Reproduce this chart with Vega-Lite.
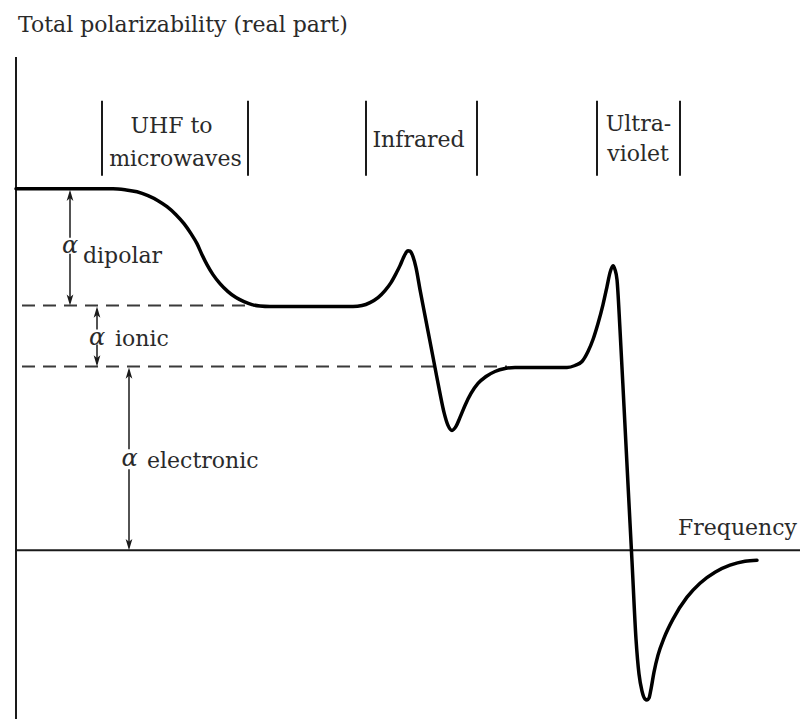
{
  "$schema": "https://vega.github.io/schema/vega-lite/v6.json",
  "width": 804,
  "height": 720,
  "autosize": {"type": "fit", "contains": "padding"},
  "padding": 0,
  "background": "white",
  "config": {"view": {"stroke": null}},
  "datasets": {
    "curve": [
      {"f": 16, "p": 362}, {"f": 113, "p": 362}, {"f": 125, "p": 361}, {"f": 137, "p": 359},
      {"f": 148, "p": 355}, {"f": 158, "p": 350}, {"f": 167, "p": 344}, {"f": 176, "p": 336},
      {"f": 184, "p": 327}, {"f": 191, "p": 317}, {"f": 197, "p": 307}, {"f": 202, "p": 296},
      {"f": 207, "p": 286}, {"f": 213, "p": 276}, {"f": 220, "p": 267}, {"f": 228, "p": 259},
      {"f": 236, "p": 253}, {"f": 244, "p": 249}, {"f": 252, "p": 246}, {"f": 260, "p": 244.5},
      {"f": 270, "p": 244}, {"f": 353, "p": 244}, {"f": 362, "p": 245}, {"f": 370, "p": 248},
      {"f": 378, "p": 253}, {"f": 385, "p": 260}, {"f": 391, "p": 268}, {"f": 396, "p": 277},
      {"f": 400, "p": 285}, {"f": 403, "p": 292}, {"f": 406, "p": 298}, {"f": 408, "p": 300},
      {"f": 410, "p": 299.5}, {"f": 413, "p": 294}, {"f": 416, "p": 283}, {"f": 420, "p": 261},
      {"f": 425, "p": 235}, {"f": 430, "p": 209}, {"f": 435, "p": 183}, {"f": 440, "p": 157},
      {"f": 444, "p": 138}, {"f": 448, "p": 125}, {"f": 452, "p": 120}, {"f": 456, "p": 124},
      {"f": 460, "p": 133}, {"f": 465, "p": 145}, {"f": 471, "p": 157}, {"f": 478, "p": 167},
      {"f": 486, "p": 174}, {"f": 495, "p": 179}, {"f": 505, "p": 182}, {"f": 515, "p": 183},
      {"f": 567, "p": 183}, {"f": 575, "p": 185}, {"f": 582, "p": 189}, {"f": 588, "p": 199},
      {"f": 593, "p": 211}, {"f": 598, "p": 227}, {"f": 603, "p": 246}, {"f": 607, "p": 264},
      {"f": 610, "p": 278}, {"f": 613, "p": 285}, {"f": 615, "p": 281}, {"f": 617, "p": 271},
      {"f": 620, "p": 221}, {"f": 624, "p": 144}, {"f": 628, "p": 66}, {"f": 632, "p": -11},
      {"f": 636, "p": -89}, {"f": 639, "p": -124}, {"f": 642, "p": -141}, {"f": 645, "p": -149},
      {"f": 647, "p": -150}, {"f": 649, "p": -148}, {"f": 651, "p": -139}, {"f": 654, "p": -122},
      {"f": 658, "p": -105}, {"f": 664, "p": -88}, {"f": 673, "p": -69}, {"f": 687, "p": -47},
      {"f": 700, "p": -33}, {"f": 715, "p": -22}, {"f": 730, "p": -15}, {"f": 745, "p": -11},
      {"f": 757, "p": -10}
    ],
    "axes": [
      {"f": 16, "f2": 16, "p": 494, "p2": -169},
      {"f": 16, "f2": 800, "p": 0, "p2": 0}
    ],
    "levels": [
      {"f": 22, "f2": 257, "p": 245, "p2": 245},
      {"f": 22, "f2": 507, "p": 184, "p2": 184}
    ],
    "bands": [
      {"f": 102, "f2": 102, "p": 450, "p2": 375},
      {"f": 248, "f2": 248, "p": 450, "p2": 375},
      {"f": 366, "f2": 366, "p": 450, "p2": 375},
      {"f": 477, "f2": 477, "p": 450, "p2": 375},
      {"f": 597, "f2": 597, "p": 450, "p2": 375},
      {"f": 680, "f2": 680, "p": 450, "p2": 375}
    ],
    "shafts": [
      {"f": 70, "f2": 70, "p": 358, "p2": 313},
      {"f": 70, "f2": 70, "p": 297, "p2": 248},
      {"f": 97, "f2": 97, "p": 241, "p2": 221},
      {"f": 97, "f2": 97, "p": 206, "p2": 187},
      {"f": 129, "f2": 129, "p": 180, "p2": 101},
      {"f": 129, "f2": 129, "p": 81, "p2": 3}
    ],
    "heads": [
      {"f": 70, "p": 361, "dir": "up"}, {"f": 70, "p": 245, "dir": "down"},
      {"f": 97, "p": 244, "dir": "up"}, {"f": 97, "p": 184, "dir": "down"},
      {"f": 129, "p": 183, "dir": "up"}, {"f": 129, "p": 0, "dir": "down"}
    ],
    "alphas": [
      {"f": 70, "p": 305, "t": "α"},
      {"f": 97, "p": 213, "t": "α"},
      {"f": 129.5, "p": 91, "t": "α"}
    ],
    "leftText": [
      {"f": 18, "p": 519, "t": "Total polarizability (real part)"},
      {"f": 83, "p": 288, "t": "dipolar"},
      {"f": 115, "p": 205, "t": "ionic"},
      {"f": 147, "p": 82, "t": "electronic"},
      {"f": 678, "p": 15, "t": "Frequency"}
    ],
    "centerText": [
      {"f": 171.5, "p": 418, "t": "UHF to"},
      {"f": 175.5, "p": 385, "t": "microwaves"},
      {"f": 418.5, "p": 404, "t": "Infrared"},
      {"f": 638.5, "p": 420, "t": "Ultra-"},
      {"f": 638, "p": 390, "t": "violet"}
    ]
  },
  "encoding": {
    "x": {"field": "f", "type": "quantitative", "axis": null, "scale": {"domain": [0, 804], "nice": false, "zero": false}},
    "y": {"field": "p", "type": "quantitative", "axis": null, "scale": {"domain": [-169, 551], "nice": false, "zero": false}}
  },
  "layer": [
    {
      "data": {"name": "axes"},
      "mark": {"type": "rule", "stroke": "#1a1a1a", "strokeWidth": 2},
      "encoding": {"x2": {"field": "f2"}, "y2": {"field": "p2"}}
    },
    {
      "data": {"name": "levels"},
      "mark": {"type": "rule", "stroke": "#3a3a3a", "strokeWidth": 2, "strokeDash": [13, 8]},
      "encoding": {"x2": {"field": "f2"}, "y2": {"field": "p2"}}
    },
    {
      "data": {"name": "bands"},
      "mark": {"type": "rule", "stroke": "#1a1a1a", "strokeWidth": 2},
      "encoding": {"x2": {"field": "f2"}, "y2": {"field": "p2"}}
    },
    {
      "data": {"name": "shafts"},
      "mark": {"type": "rule", "stroke": "#1a1a1a", "strokeWidth": 1.5},
      "encoding": {"x2": {"field": "f2"}, "y2": {"field": "p2"}}
    },
    {
      "data": {"name": "heads"},
      "mark": {"type": "point", "filled": true, "fill": "#1a1a1a", "opacity": 1, "size": 500, "strokeWidth": 0},
      "encoding": {
        "shape": {"field": "dir", "type": "nominal", "legend": null,
          "scale": {"domain": ["up", "down"], "range": ["M0,0L-0.3,1L0,0.75L0.3,1Z", "M0,0L-0.3,-1L0,-0.75L0.3,-1Z"]}}
      }
    },
    {
      "data": {"name": "curve"},
      "mark": {"type": "line", "stroke": "#000000", "strokeWidth": 3.5, "interpolate": "monotone", "strokeCap": "round", "strokeJoin": "round"},
      "encoding": {}
    },
    {
      "data": {"name": "alphas"},
      "mark": {"type": "text", "font": "DejaVu Serif", "fontStyle": "italic", "fontSize": 24, "align": "center", "baseline": "middle", "fill": "#2a2a2a"},
      "encoding": {"text": {"field": "t"}}
    },
    {
      "data": {"name": "leftText"},
      "mark": {"type": "text", "font": "DejaVu Serif", "fontSize": 22, "align": "left", "baseline": "alphabetic", "fill": "#2a2a2a"},
      "encoding": {"text": {"field": "t"}}
    },
    {
      "data": {"name": "centerText"},
      "mark": {"type": "text", "font": "DejaVu Serif", "fontSize": 22, "align": "center", "baseline": "alphabetic", "fill": "#2a2a2a"},
      "encoding": {"text": {"field": "t"}}
    }
  ]
}
